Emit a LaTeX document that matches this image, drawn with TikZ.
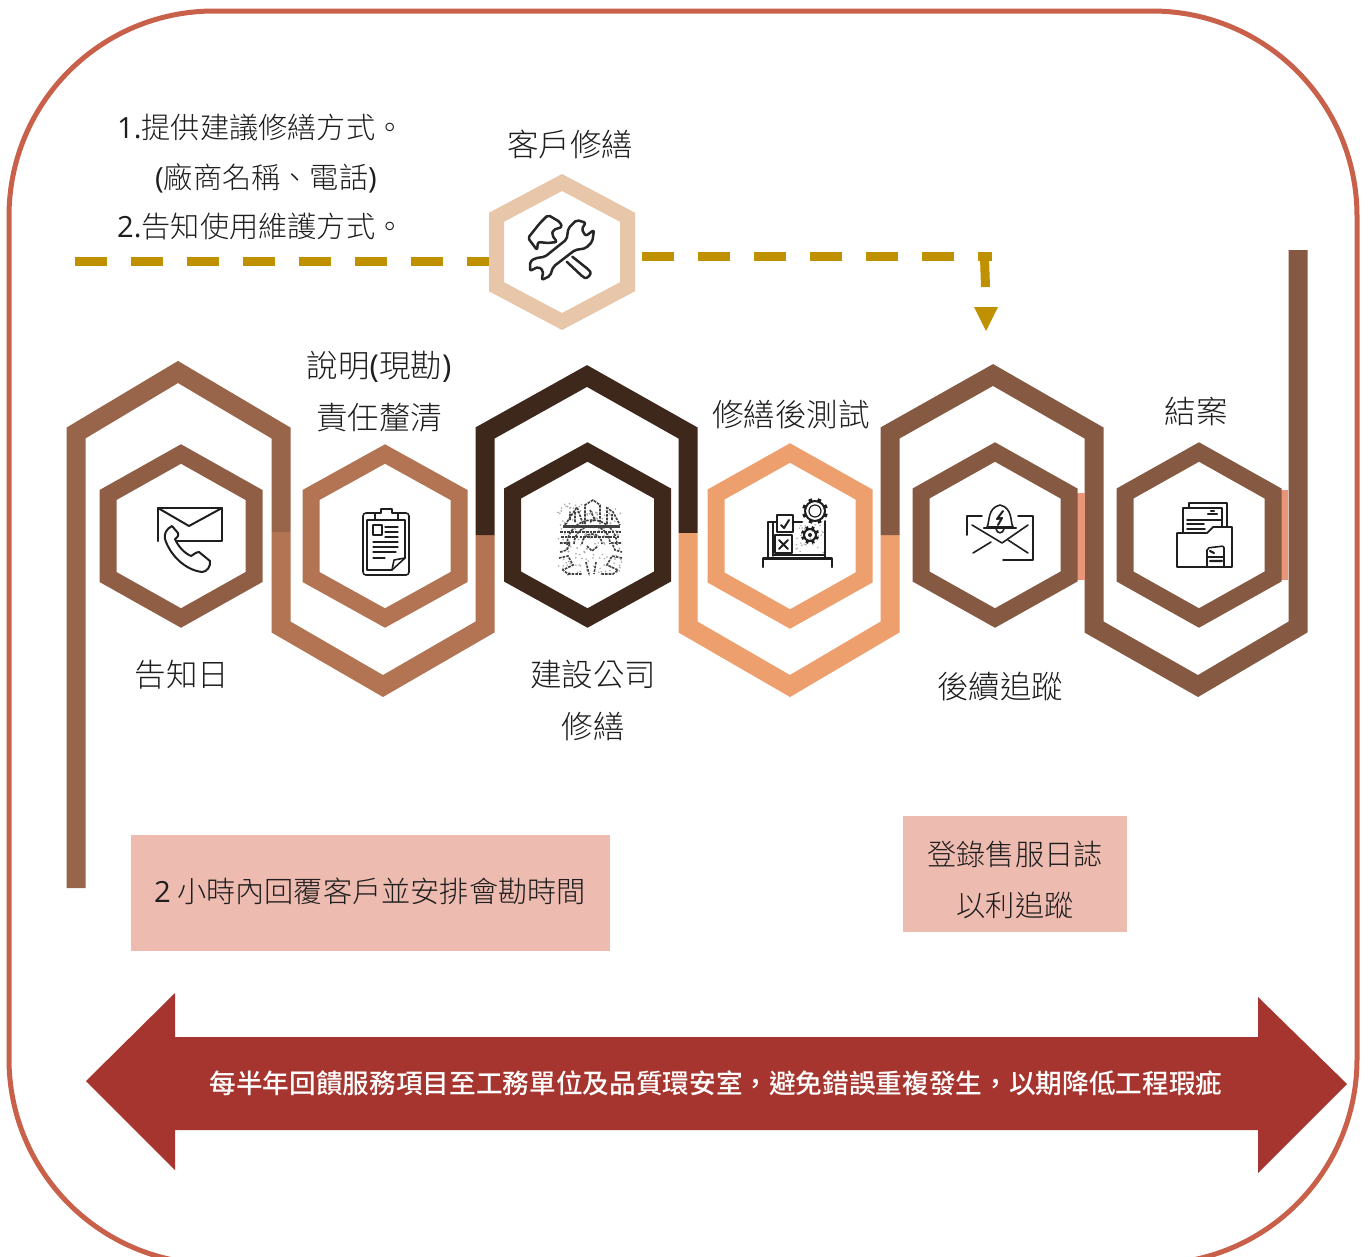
\documentclass[tikz,border=0pt]{standalone}
\usepackage{fontspec}
\setmainfont{Noto Sans CJK TC Light}
\newfontfamily\lat{Open Sans}
\newfontfamily\boldcjk{Noto Sans CJK TC Medium}
\definecolor{frameC}{HTML}{C8604A}
\definecolor{goldC}{HTML}{BF9000}
\definecolor{segA}{HTML}{98644A}
\definecolor{segB}{HTML}{B27452}
\definecolor{segC}{HTML}{3E271B}
\definecolor{segD}{HTML}{EE9F6E}
\definecolor{segE}{HTML}{865A42}
\definecolor{hexA}{HTML}{8F5E45}
\definecolor{hexW}{HTML}{E8C6A9}
\definecolor{pinkC}{HTML}{EEBBB1}
\definecolor{arrowC}{HTML}{A5352E}
\definecolor{salmonC}{HTML}{E8957A}
\definecolor{inkC}{HTML}{1E1E1E}
\tikzset{
  lab/.style={inner sep=0pt,text height=27pt,text depth=5pt,font=\fontsize{31.5}{36}\selectfont,text=inkC},
  labs/.style={lab,font=\fontsize{29.2}{36}\selectfont},
  labl/.style={labs,anchor=west},
  snake/.style={line width=19pt,line cap=butt,line join=miter,miter limit=10},
  hexline/.style={line width=17pt,line join=miter,miter limit=10},
  goldline/.style={draw=goldC,line width=9pt,dash pattern=on 32pt off 24pt},
  icon/.style={draw=inkC,line width=1.6pt,line join=round,line cap=round},
  iconf/.style={icon,fill=white},
  toolline/.style={iconf,draw=black!85,line width=2.5pt,rounded corners=2pt},
  fuzzy/.style={draw=inkC!85,line width=1.6pt,dash pattern=on 2.6pt off 1.1pt},
}
\newcommand{\hexring}[6]{%
  \coordinate (#1) at (#2,#3);
  \draw[hexline,draw=#6] (#2,{#3-#5}) -- ({#2+#4},{#3-#5/2}) -- ({#2+#4},{#3+#5/2}) -- (#2,{#3+#5}) -- ({#2-#4},{#3+#5/2}) -- ({#2-#4},{#3-#5/2}) -- cycle;}
\newcommand{\geartooth}[4]{%
  \foreach \ang in {0,45,...,315}{\draw[draw=inkC,line width=#4pt] ({#1+(#3-1)*cos(\ang+22)},{#2+(#3-1)*sin(\ang+22)}) -- ({#1+(#3+3)*cos(\ang+22)},{#2+(#3+3)*sin(\ang+22)});}
  \draw[draw=inkC,line width=2pt] (#1,#2) circle[radius=#3];}
\begin{document}
\begin{tikzpicture}[x=1pt,y=-1pt]
\useasboundingbox (0,0) rectangle (1368,1256);
\fill[white] (0,0) rectangle (1368,1256);
% frame
\draw[frameC,line width=5pt,rounded corners=205pt] (9,11) rectangle (1357,1264);

% snake
\draw[snake,draw=segA] (76,888) -- (76,433) -- (178,372) -- (281,433) -- (281,532);
\draw[snake,draw=segB] (281,532) -- (281,627) -- (383,686) -- (485,627) -- (485,535);
\draw[snake,draw=segC] (485,535) -- (485,433) -- (587,376) -- (688,433) -- (688,533);
\draw[snake,draw=segD] (688,533) -- (688,627) -- (790,686) -- (890,627) -- (890,535);
\draw[snake,draw=segE] (890,535) -- (890,433) -- (993,375) -- (1094,433) -- (1094,627) -- (1198,686) -- (1298,627) -- (1298,250);
\fill[salmonC] (1077,493) rectangle (1085,580);
\fill[salmonC] (1281,490) rectangle (1288,580);

% hexagons
\hexring{h1}{181}{536}{73}{82}{hexA}
\hexring{h2}{385}{536}{74}{82}{segB}
\hexring{h3}{587.5}{535}{75}{83}{segC}
\hexring{h4}{790}{536}{74}{83}{segD}
\hexring{h5}{995}{535}{74}{83}{segE}
\hexring{h6}{1199}{535}{74}{83}{segE}

% gold dashes
\coordinate (gl) at (75,261);
\coordinate (gr) at (491,261);
\coordinate (g2l) at (642,256);
\coordinate (g2r) at (992,256);
\coordinate (gd1) at (984.5,258);
\coordinate (gd2) at (985.5,287);
\draw[goldline] (gl) -- (gr);
\draw[goldline] (g2l) -- (g2r);
\draw[draw=goldC,line width=9pt] (gd1) -- (gd2);
\fill[goldC] (974,307) -- (998,307) -- (986,331) -- cycle;

% wrench hexagon
\begin{scope}[hexline/.append style={line width=15pt}]
\hexring{hw}{562}{252}{65.5}{69.5}{hexW}
\end{scope}

% labels
\node[labl] (t1) at (117,127) {{\lat 1.}提供建議修繕方式。};
\node[labl] (t2) at (155,177) {{\lat (}廠商名稱、電話{\lat )}};
\node[labl] (t3) at (117,226) {{\lat 2.}告知使用維護方式。};
\node[lab] (l0) at (570,145) {客戶修繕};
\node[lab] (l1) at (182,675) {告知日};
\node[lab] (l2a) at (379,366) {說明{\lat (}現勘{\lat )}};
\node[lab] (l2b) at (379,418) {責任釐清};
\node[lab] (l3a) at (593,675) {建設公司};
\node[lab] (l3b) at (593,727) {修繕};
\node[lab] (l4) at (791,415) {修繕後測試};
\node[lab] (l5) at (1000,687) {後續追蹤};
\node[lab] (l6) at (1196,412) {結案};

% pink boxes
\fill[pinkC] (131,835) rectangle (610,951);
\node[labs] (b1) at (370,891) {{\lat 2} 小時內回覆客戶並安排會勘時間};
\fill[pinkC] (903,816) rectangle (1127,932);
\node[labs] (b2a) at (1015,854) {登錄售服日誌};
\node[labs] (b2b) at (1015,905) {以利追蹤};

% big arrow
\fill[arrowC] (86,1081) -- (175,993) -- (175,1037) -- (1258,1037) -- (1258,997) -- (1347,1084) -- (1258,1173) -- (1258,1130) -- (175,1130) -- (175,1170) -- cycle;
\node[inner sep=0pt,text=white,text height=22pt,text depth=4pt,font=\fontsize{26.65}{30}\selectfont\boldcjk] (arrowtext) at (716,1084) {每半年回饋服務項目至工務單位及品質環安室，避免錯誤重複發生，以期降低工程瑕疵};

% icon 1: envelope and handset
\draw[icon,line width=2pt] (158,541) -- (158,508) -- (222,508) -- (222,541) -- (172,541);
\draw[icon,line width=2pt] (158,508) -- (189,526) -- (222,508);
\draw[iconf,line width=2pt] (172,526) .. controls (166,529) and (164,534) .. (165,539) .. controls (170,555) and (185,570) .. (202,572) .. controls (207,572) and (211,566) .. (210,561) -- (199,552) .. controls (196,552) and (193,555) .. (191,556) .. controls (184,553) and (178,546) .. (175,539) .. controls (178,537) and (179,535) .. (178,533) -- cycle;

% icon 2: clipboard
\draw[icon,rounded corners=3pt] (363,513) rectangle (409,575);
\draw[icon] (367,520) -- (367,570) -- (392,570) -- (405,558) -- (405,520) -- cycle;
\draw[iconf] (375,513) -- (381,513) -- (381,509) -- (392,509) -- (392,513) -- (398,513) -- (398,520) -- (375,520) -- cycle;
\draw[icon,line width=1.3pt] (373,525) rectangle (382,535);
\foreach \yy/\xa/\xb in {527/385/398,532/385/398,537/385/398,542/373/398,547/373/398,552/373/396,558/373/385}{\draw[icon,line width=1.2pt] (\xa,\yy) -- (\xb,\yy);}
\draw[icon] (392,570) -- (394,560) -- (405,558);

% icon 3: hammer and wrench
\draw[toolline] (572.3,256.7) -- (589,270) .. controls (592,274) and (587,279) .. (583,277) -- (566.7,261.7);
\draw[toolline] (528,238) -- (540,223) -- (548,215) -- (560,222) -- (562,227) -- (553,230) -- (552,235) -- (557,242) -- (548,243) -- (538,242) -- (537,250) -- cycle;
\draw[toolline] (566.7,239.3) -- (568.3,228.3) -- (576.7,220) -- (585.7,222.7) -- (581.7,229.3) -- (585.7,236) -- (594,230) -- (592.3,241.7) -- (585.7,248.3) -- (575,250) -- (553.3,266.7) -- (550,276) -- (541.7,280) -- (543.3,270.7) -- (538.3,266.7) -- (530,271) -- (530,261.7) -- (535,258.3) -- (545,256.7) -- cycle;

% icon 4: building above a gear (fuzzy)
\pgfmathsetseed{7}
\foreach \k in {1,...,170}{\fill[black!35] ({558+64*rnd},{503+72*rnd}) circle[radius=0.9];}
\draw[fuzzy] (565,525) -- (577,507) -- (583,524);
\draw[fuzzy] (585,524) -- (585,505) -- (593,500) -- (600,505) -- (600,524);
\draw[fuzzy] (607,524) -- (607,508) -- (613,512) -- (620,525);
\draw[fuzzy] (570,520) -- (570,512) (575,522) -- (575,512) (590,510) -- (595,520) -- (590,522) (612,520) -- (612,514);
\draw[draw=inkC!85,line width=2.2pt] (563,526.5) -- (620,526.5);
\draw[fuzzy] (560,532) -- (621,532) (561,537) -- (620,537);
\draw[fuzzy] (567,545) arc[start angle=180,end angle=360,radius=25];
\draw[fuzzy] (574,544) arc[start angle=180,end angle=360,radius=18];
\draw[fuzzy] (582,544) arc[start angle=180,end angle=360,radius=10];
\draw[fuzzy] (587,546) -- (592,551) -- (598,546);
\draw[fuzzy] (560,543) -- (570,543) -- (567,550) -- (560,552) (559,558) -- (568,556) -- (573,565) -- (563,570) -- (568,574) -- (582,574);
\draw[fuzzy] (621,543) -- (612,543) -- (615,550) -- (622,552) (622,558) -- (612,556) -- (607,565) -- (618,570) -- (613,574) -- (600,574);
\draw[fuzzy] (586,562) -- (589,574) (596,562) -- (594,574);

% icon 5: test board and gears
\pgfmathsetseed{11}
\foreach \k in {1,...,38}{\fill[black!30] ({796+28*rnd},{524+30*rnd}) circle[radius=0.9];}
\draw[icon,line width=2.2pt] (768,558) -- (768,522) -- (777,522);
\draw[icon,line width=1.4pt] (773,522) -- (773,556);
\draw[icon,line width=2.6pt] (793,522) -- (802,522);
\draw[icon,line width=2pt] (825,521) -- (825,557);
\draw[icon,line width=2.4pt] (763,567) -- (763,558.5) -- (832,558.5) -- (832,567);
\draw[icon,line width=1.4pt] (773,555) -- (825,555);
\draw[iconf,line width=2.4pt] (777,515) rectangle (793,532);
\draw[icon,line width=2pt] (781,525) -- (784,528) -- (789,520);
\draw[iconf,line width=2.4pt] (775,535) rectangle (792,553);
\draw[icon,line width=2pt] (779,540) -- (788,549) (788,540) -- (779,549);
\geartooth{815}{511}{10}{3.6}
\draw[icon,line width=1.2pt] (815,511) circle[radius=6];
\geartooth{810}{535}{6}{2.8}
\fill[inkC] (810,535) circle[radius=2];

% icon 6: bell envelope
\draw[icon] (982,516) -- (967,516) -- (967,535);
\draw[icon] (1018,516) -- (1033,516) -- (1033,560) -- (1003,560);
\draw[icon] (972,525) -- (1002,543) -- (1028,525);
\draw[icon] (973,553) -- (991,542) (1028,553) -- (1008,540);
\draw[iconf] (987,527) .. controls (990,522) and (987,508) .. (1000,505) .. controls (1013,508) and (1010,522) .. (1013,527) -- cycle;
\draw[icon,line width=2.2pt] (984,528) -- (1016,528);
\draw[icon] (996,529) .. controls (997,534) and (1003,534) .. (1004,529);
\draw[icon,line width=2pt] (1003,511) -- (997,519) -- (1002,518) -- (998,525);

% icon 7: folder
\draw[icon] (1189,503) -- (1227,503) -- (1227,526);
\draw[icon] (1189,503) -- (1189,508);
\draw[icon] (1183,534) -- (1183,508) -- (1222,508) -- (1222,527);
\draw[icon] (1187,520) -- (1222,520) (1187,524) -- (1204,524) (1187,529) -- (1205,529);
\draw[icon,line width=2.4pt] (1208,514) -- (1217,514);
\draw[icon,line width=2.4pt] (1211,511) -- (1214,511);
\draw[iconf,line width=1.8pt] (1177,567) -- (1177,533) -- (1207,533) -- (1213,527) -- (1232,527) -- (1232,567) -- cycle;
\draw[icon,rounded corners=2pt] (1207,566) -- (1207,548) -- (1224,546) -- (1224,566);
\draw[icon] (1207,557) -- (1224,557);
\draw[icon,line width=2.2pt] (1210,551) -- (1214,553) (1210,561) -- (1222,561);
\end{tikzpicture}
\end{document}
